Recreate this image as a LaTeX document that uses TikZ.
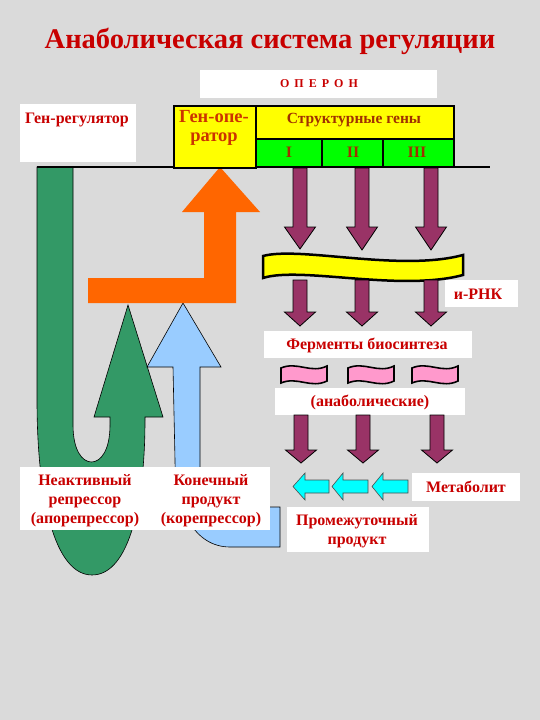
\documentclass[tikz,border=0pt]{standalone}
\usepackage{fontspec}
\setmainfont{Liberation Serif}
\definecolor{bg}{HTML}{DADADA}
\definecolor{txtred}{HTML}{C80000}
\definecolor{oprred}{HTML}{CC3300}
\definecolor{numred}{HTML}{A03000}
\definecolor{grarrow}{HTML}{339966}
\definecolor{orarrow}{HTML}{FF6600}
\definecolor{blarrow}{HTML}{99CCFF}
\definecolor{purarrow}{HTML}{993366}
\definecolor{pinkflag}{HTML}{FF99CC}
\definecolor{genegreen}{HTML}{00FF00}
\definecolor{geneyellow}{HTML}{FFFF00}
\definecolor{cyanarr}{HTML}{00FFFF}
\newcommand{\purarr}[4]{\draw[parr] (#1-7,#2) -- (#1+7,#2) -- (#1+7,#3) -- (#1+15.5,#3) -- (#1,#4) -- (#1-15.5,#3) -- (#1-7,#3) -- cycle;}
\newcommand{\cyarr}[3]{\draw[carr] (#1,486.5) -- (#2,473) -- (#2,480) -- (#3,480) -- (#3,493) -- (#2,493) -- (#2,500) -- cycle;}
\newcommand{\pflag}[2]{\draw[flagst] (#1,#2+3) .. controls (#1+16,#2-4) and (#1+30,#2+9) .. (#1+46,#2+1) -- (#1+46,#2+16) .. controls (#1+30,#2+24) and (#1+16,#2+11) .. (#1,#2+18) -- cycle;}
\begin{document}
\begin{tikzpicture}[x=1pt,y=-1pt,
  wbox/.style={fill=white,draw=none,inner sep=0pt,anchor=north west},
  gbox/.style={draw=black,line width=1.5pt,inner sep=0pt,anchor=north west},
  txt/.style={text=txtred,font=\bfseries\fontsize{16}{19}\selectfont,align=center,inner sep=0pt},
  parr/.style={fill=purarrow,draw=black,line width=0.8pt},
  carr/.style={fill=cyanarr,draw=black!70,line width=0.6pt},
  flagst/.style={fill=pinkflag,draw=black,line width=1.6pt},
  bigarr/.style={draw=black,line width=0.6pt}]
\useasboundingbox (0,0) rectangle (540,720);
\fill[bg] (0,0) rectangle (540,720);

% green U-turn arrow
\draw[bigarr,fill=grarrow] (37,167) -- (37,400) .. controls (37,500) and (55,575) .. (92,575)
  .. controls (130,575) and (145,500) .. (145,420) -- (145,417) -- (163,417) -- (128,305)
  -- (94,417) -- (110,417) -- (110,425) .. controls (110,450) and (101,462) .. (91.5,462)
  .. controls (82,462) and (73,450) .. (73,425) -- (73,167) -- cycle;

% blue arrow
\draw[bigarr,fill=blarrow] (173,367) -- (147,367) -- (183,303) -- (221,367) -- (200,367)
  -- (200,470) .. controls (200,495) and (210,507) .. (230,507) -- (280,507) -- (280,547)
  -- (230,547) .. controls (195,547) and (175,510) .. (175,460) -- cycle;

% orange bent arrow
\fill[orarrow] (88,278) -- (204,278) -- (204,212) -- (182,212) -- (220,167) -- (260,212)
  -- (236,212) -- (236,303) -- (88,303) -- cycle;

% DNA line
\coordinate (dnaL) at (37,167);
\coordinate (dnaR) at (490,167);
\draw[line width=2pt] (dnaL) -- (dnaR);

% title
\node[text=txtred,font=\bfseries\fontsize{28.5}{32}\selectfont,inner sep=0pt] (title) at (270,41) {Анаболическая система регуляции};

% operon box
\node[wbox,minimum width=237pt,minimum height=28pt] (operon) at (200,70) {};
\node[txt,font=\bfseries\fontsize{12}{14}\selectfont] (operontxt) at (319,84) {О\hspace{5pt}П\hspace{5pt}Е\hspace{5pt}Р\hspace{5pt}О\hspace{5pt}Н};

% gene regulator
\node[wbox,minimum width=116pt,minimum height=58pt] (genreg) at (20,104) {};
\node[txt] (genregtxt) at (77,120) {Ген-регулятор};

% operator and structural genes
\node[gbox,fill=geneyellow,minimum width=82pt,minimum height=62pt] (oper) at (173,105) {};
\node[gbox,fill=geneyellow,minimum width=198pt,minimum height=33pt] (struct) at (255,105) {};
\node[gbox,fill=genegreen,minimum width=66pt,minimum height=28pt] (g1) at (255,138) {};
\node[gbox,fill=genegreen,minimum width=61pt,minimum height=28pt] (g2) at (321,138) {};
\node[gbox,fill=genegreen,minimum width=71pt,minimum height=28pt] (g3) at (382,138) {};
\node[txt,text=oprred,font=\bfseries\fontsize{18.5}{19}\selectfont] (opertxt) at (214,128) {Ген-опе-\\ратор};
\node[txt,text=numred,font=\bfseries\fontsize{15.5}{18}\selectfont] (structtxt) at (354,120) {Структурные гены};
\node[txt,text=numred,font=\bfseries\fontsize{16}{17}\selectfont] (n1) at (289,152) {I};
\node[txt,text=numred,font=\bfseries\fontsize{16}{17}\selectfont] (n2) at (353,152) {II};
\node[txt,text=numred,font=\bfseries\fontsize{16}{17}\selectfont] (n3) at (417,152) {III};

% purple arrows row 1
\purarr{300}{168}{227}{249}
\purarr{362}{168}{227}{250}
\purarr{431}{168}{227}{250}

% mRNA band
\draw[fill=geneyellow,line width=2.5pt] (263,256) .. controls (300,246) and (400,272) .. (463,255)
  -- (463,275) .. controls (400,292) and (300,266) .. (263,278) -- cycle;

% purple arrows row 2
\purarr{300}{280}{312}{326}
\purarr{362}{280}{312}{326}
\purarr{431}{280}{312}{326}

% mRNA label
\node[wbox,minimum width=73pt,minimum height=27pt] (mrna) at (445,280) {};
\node[txt] (mrnatxt) at (478,294) {и-РНК};

% enzymes
\node[wbox,minimum width=208pt,minimum height=27pt] (enz) at (264,331) {};
\node[txt] (enztxt) at (367,345) {Ферменты биосинтеза};

% pink flags
\pflag{281}{365}
\pflag{348}{365}
\pflag{412}{365}

% anabolic
\node[wbox,minimum width=190pt,minimum height=27pt] (anab) at (275,388) {};
\node[txt] (anabtxt) at (370,402) {(анаболические)};

% purple arrows row 3
\purarr{301}{415}{450}{463}
\purarr{363}{415}{450}{463}
\purarr{437}{415}{450}{463}

% cyan arrows
\cyarr{293}{305}{329}
\cyarr{332}{343}{368}
\cyarr{372}{383}{408}

% metabolite
\node[wbox,minimum width=108pt,minimum height=28pt] (metab) at (412,473) {};
\node[txt] (metabtxt) at (466,487) {Метаболит};

% intermediate product
\node[wbox,minimum width=142pt,minimum height=45pt] (inter) at (287,507) {};
\node[txt] (intertxt) at (357,531) {Промежуточный\\продукт};

% bottom-left labels
\node[wbox,minimum width=250pt,minimum height=63pt] (lbl) at (20,467) {};
\node[txt] (aporep) at (85,501) {Неактивный\\репрессор\\(апорепрессор)};
\node[txt] (corep) at (211,501) {Конечный\\продукт\\(корепрессор)};
\end{tikzpicture}
\end{document}
